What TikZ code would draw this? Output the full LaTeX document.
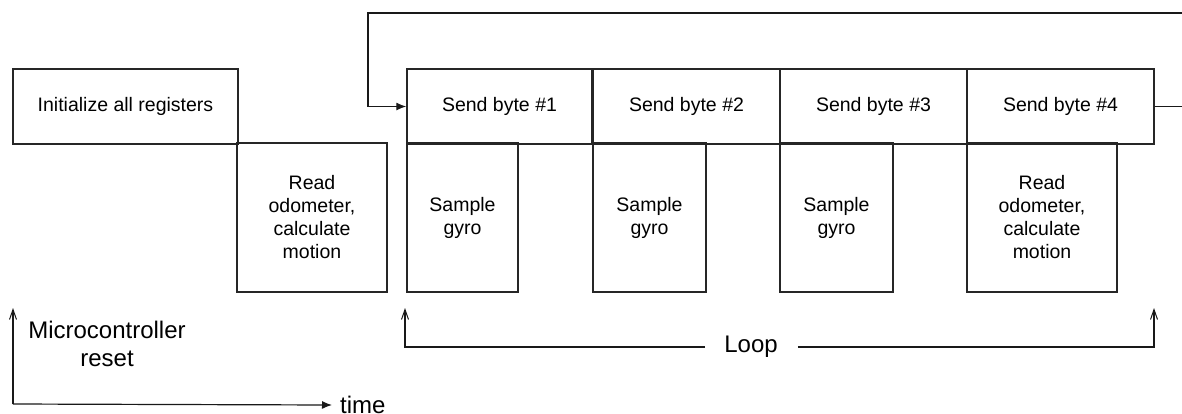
\documentclass[tikz,border=0pt]{standalone}
\usepackage{fontspec}
\setmainfont{Liberation Sans}
\usetikzlibrary{arrows.meta}
\begin{document}
\begin{tikzpicture}[x=1pt,y=-1pt,
  box/.style={draw=black!85, line width=1.5pt, rectangle, inner sep=0pt, align=center,
    font=\fontsize{19.5}{23}\selectfont},
  conn/.style={draw=black!90, line width=1.2pt},
  filledtip/.style={-{Latex[length=10pt,width=8pt]}},
  opentip/.style={-{Straight Barb[length=10pt,width=7pt,line width=1pt]}},
  lbl/.style={inner sep=0pt, align=center, font=\fontsize{24}{28}\selectfont}]
\useasboundingbox (0,0) rectangle (1182,413);
% boxes
\node[box, minimum width=225pt, minimum height=75pt] (init) at (125.5,106.5) {Initialize all registers};
\node[box, minimum width=150pt, minimum height=149pt] (read1) at (312,217.5) {Read\\odometer,\\calculate\\motion};
\node[box, minimum width=185pt, minimum height=75pt] (s1) at (499.5,106.5) {Send byte \#1};
\node[box, minimum width=187pt, minimum height=75pt] (s2) at (686.5,106.5) {Send byte \#2};
\node[box, minimum width=187pt, minimum height=75pt] (s3) at (873.5,106.5) {Send byte \#3};
\node[box, minimum width=187pt, minimum height=75pt] (s4) at (1060.5,106.5) {Send byte \#4};
\node[box, minimum width=111pt, minimum height=149pt] (g1) at (462.5,217.5) {Sample\\gyro};
\node[box, minimum width=113pt, minimum height=149pt] (g2) at (649.5,217.5) {Sample\\gyro};
\node[box, minimum width=113pt, minimum height=149pt] (g3) at (836.5,217.5) {Sample\\gyro};
\node[box, minimum width=150pt, minimum height=149pt] (read2) at (1042,217.5) {Read\\odometer,\\calculate\\motion};
% feedback loop on top
\coordinate (fbR) at (1192,13);
\coordinate (fbL) at (368,13);
\draw[conn, filledtip] (s4.east) -| (fbR) -- (fbL) |- (s1.west);
% reset and time axis
\coordinate (origin) at (13,404);
\coordinate (rstTip) at (13,308);
\node[lbl] (reset) at (107,344) {Microcontroller\\reset};
\node[lbl, anchor=west] (time) at (340,405) {time};
\draw[conn, opentip] (origin) -- (rstTip);
\draw[conn, filledtip] (origin) -- ([xshift=-8pt]time.west);
% loop
\node[lbl] (loop) at (751,347) {Loop};
\coordinate (lpL) at (405,308);
\coordinate (lpR) at (1154,308);
\draw[conn, opentip] ([xshift=-19pt]loop.west) -| (lpL);
\draw[conn, opentip] ([xshift=20pt]loop.east) -| (lpR);
\end{tikzpicture}
\end{document}
